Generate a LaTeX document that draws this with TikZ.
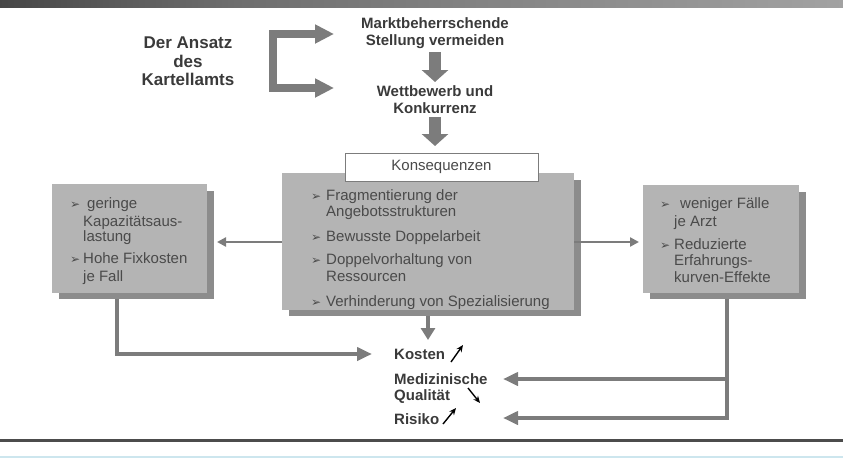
\documentclass[tikz,border=0pt]{standalone}
\usepackage{fontspec}
\setmainfont{Liberation Sans}
\newfontfamily\bulfont{DejaVu Sans}
\usetikzlibrary{arrows.meta}
\definecolor{boxgray}{HTML}{B4B4B4}
\definecolor{shadowgray}{HTML}{8C8C8C}
\definecolor{arrowgray}{HTML}{7C7C7C}
\definecolor{txtgray}{HTML}{4A4A4A}
\definecolor{headgray}{HTML}{3A3A3A}
\definecolor{barleft}{HTML}{383838}
\definecolor{barmid}{HTML}{6E6E6E}
\definecolor{barright}{HTML}{C6C6C6}
\definecolor{cyanline}{HTML}{CDE6EE}
\definecolor{rulegray}{HTML}{4C4C4C}
\definecolor{rulelight}{HTML}{8A8A8A}
\pgfdeclarehorizontalshading{topbar}{100bp}{color(0bp)=(barleft); color(20bp)=(barleft); color(39bp)=(barmid); color(100bp)=(barright)}
\pgfdeclarehorizontalshading{bottomrule}{100bp}{color(0bp)=(rulelight); color(14bp)=(rulegray); color(100bp)=(rulegray)}
\newcommand{\bulx}[1]{\llap{{\bulfont\fontsize{12}{12}\selectfont ➢}\hspace{#1}}}
\begin{document}
\begin{tikzpicture}[x=1pt,y=-1pt,
  panel/.style={fill=boxgray,draw=none},
  panelshadow/.style={fill=shadowgray,draw=none},
  boxtxt/.style={anchor=base west,inner sep=0pt,text=txtgray,font=\fontsize{15}{17}\selectfont},
  headtxt/.style={align=center,inner sep=0pt,text=headgray,font=\bfseries\fontsize{15}{17}\selectfont},
  restxt/.style={anchor=base west,inner sep=0pt,text=headgray,font=\bfseries\fontsize{15}{17}\selectfont},
  blockarrow/.style={draw=arrowgray,line width=8pt,line join=miter},
  downarrow/.style={draw=arrowgray,line width=12pt,-{Triangle[width=26pt,length=12pt]}},
  fatconn/.style={draw=arrowgray,line width=4.5pt,line join=miter,-{Triangle[width=13pt,length=15pt]}},
  thinconn/.style={draw=arrowgray,line width=2.5pt,-{Triangle[width=9pt,length=9pt]}},
  trend/.style={draw=black,line width=1.4pt,-{Stealth[width=6pt,length=7pt]}}
]
\useasboundingbox (0,0) rectangle (843,458);
% top bar and bottom lines
\shade[shading=topbar] (0,0) rectangle (843,7);
\shade[shading=bottomrule] (0,439) rectangle (843,441);
\fill[cyanline] (0,455.5) rectangle (843,458);

% heading texts
\node[headtxt,font=\bfseries\fontsize{17}{18.5}\selectfont] (ansatz) at (188,61.5) {Der Ansatz\\des\\Kartellamts};
\node[headtxt] (markt) at (435,33.5) {Marktbeherrschende\\Stellung vermeiden};
\node[headtxt] (wett) at (435,100) {Wettbewerb und\\Konkurrenz};

% bracket arrows
\coordinate (b1) at (334,34);
\coordinate (b2) at (334,88);
\coordinate (bc1) at (273,34);
\coordinate (bc2) at (273,88);
\draw[blockarrow,{Triangle[width=18pt,length=19pt]}-{Triangle[width=18pt,length=19pt]}] (b1) -- (bc1) -- (bc2) -- (b2);

% down arrows
\coordinate (d1s) at (435,52);
\coordinate (d1e) at (435,82);
\coordinate (d2s) at (435,117);
\coordinate (d2e) at (435,146);
\draw[downarrow] (d1s) -- (d1e);
\draw[downarrow] (d2s) -- (d2e);

% central box
\path[panelshadow] (289,180) rectangle (581,316);
\node[panel,minimum width=292pt,minimum height=137pt,inner sep=0pt] (cbox) at (428,241.5) {};
\node[minimum width=292pt,minimum height=136pt,inner sep=0pt] (csh) at (435,248) {};
\node[draw=arrowgray,fill=white,line width=1pt,minimum width=193pt,minimum height=28pt,inner sep=0pt,text=txtgray,font=\fontsize{15}{17}\selectfont] (kons) at (441.5,167) {Konsequenzen};
\node[boxtxt] (c1) at (326,200) {\bulx{5pt}Fragmentierung der};
\node[boxtxt] (c2) at (326,216) {Angebotsstrukturen};
\node[boxtxt] (c3) at (326,241) {\bulx{5pt}Bewusste Doppelarbeit};
\node[boxtxt] (c4) at (326,264) {\bulx{5pt}Doppelvorhaltung von};
\node[boxtxt] (c5) at (326,281) {Ressourcen};
\node[boxtxt] (c6) at (326,306) {\bulx{5pt}Verhinderung von Spezialisierung};

% left box
\path[panelshadow] (59,191) rectangle (214,299);
\node[panel,minimum width=155pt,minimum height=109pt,inner sep=0pt] (lbox) at (129.5,238.5) {};
\node[minimum width=155pt,minimum height=108pt,inner sep=0pt] (lsh) at (136.5,245) {};
\node[boxtxt] (l1) at (87,208) {\bulx{7pt}geringe};
\node[boxtxt] (l2) at (83,226) {Kapazitätsaus-};
\node[boxtxt] (l3) at (83,241) {lastung};
\node[boxtxt] (l4) at (83,263) {\bulx{3pt}Hohe Fixkosten};
\node[boxtxt] (l5) at (83,281) {je Fall};

% right box
\path[panelshadow] (650,192) rectangle (806,299);
\node[panel,minimum width=156pt,minimum height=108pt,inner sep=0pt] (rbox) at (721,239) {};
\node[minimum width=156pt,minimum height=107pt,inner sep=0pt] (rsh) at (728,245.5) {};
\node[boxtxt] (r1) at (680,208) {\bulx{10pt}weniger Fälle};
\node[boxtxt] (r2) at (674,226) {je Arzt};
\node[boxtxt] (r3) at (674,249) {\bulx{4pt}Reduzierte};
\node[boxtxt] (r4) at (674,265) {Erfahrungs-};
\node[boxtxt] (r5) at (674,282) {kurven-Effekte};

% thin arrows from central box
\coordinate (lt) at (217,242);
\coordinate (rt2) at (639,242);
\draw[thinconn] (cbox.west |- lt) -- (lt);
\draw[thinconn] (cbox.east |- rt2) -- (rt2);

% results
\node[restxt] (kosten) at (394,359.5) {Kosten};
\node[restxt] (med) at (394,384.5) {Medizinische};
\node[restxt] (qual) at (394,400.5) {Qualität};
\node[restxt] (risiko) at (394,424.5) {Risiko};
\coordinate (k1) at (451,362); \coordinate (k2) at (463,345);
\coordinate (q1) at (468,388); \coordinate (q2) at (480,403);
\coordinate (s1) at (443,424); \coordinate (s2) at (456,408);
\draw[trend] (k1) -- (k2);
\draw[trend] (q1) -- (q2);
\draw[trend] (s1) -- (s2);

% down arrow from central box
\coordinate (kd) at (428,340);
\draw[draw=arrowgray,line width=4.5pt,-{Triangle[width=14pt,length=12pt]}] (csh.south -| kd) -- (kd);

% left connector
\coordinate (lc) at (117,354);
\coordinate (kt) at (372,354);
\draw[fatconn] (lsh.south -| lc) -- (lc) -- (kt);

% right connectors
\coordinate (rc) at (727,418);
\coordinate (mt) at (503,379);
\coordinate (st) at (503,418);
\draw[fatconn] (rsh.south -| rc) -- (rc) -- (st);
\draw[fatconn] (mt -| rc) -- (mt);
\end{tikzpicture}
\end{document}
